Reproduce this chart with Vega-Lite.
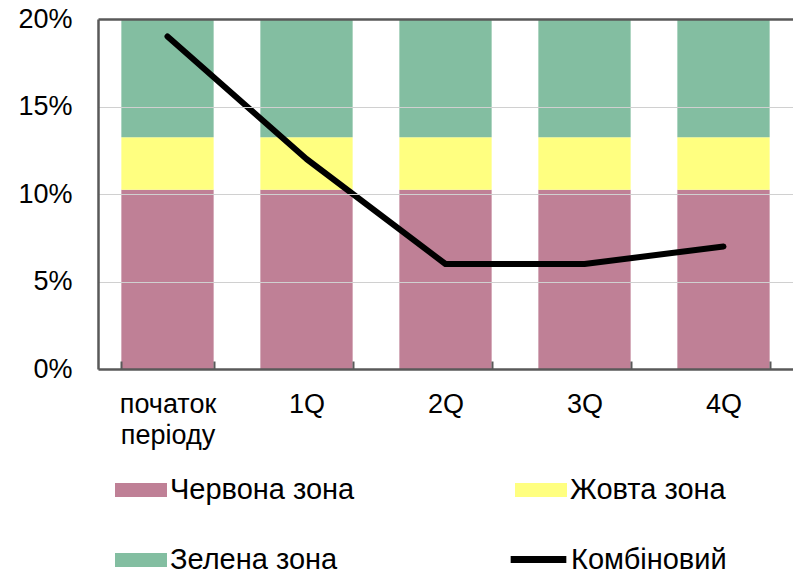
{
  "$schema": "https://vega.github.io/schema/vega-lite/v6.json",
  "autosize": {"type": "none"},
  "width": 695,
  "height": 350,
  "padding": {"left": 98, "top": 19, "right": 0, "bottom": 202},
  "background": "white",
  "config": {
    "font": "Liberation Sans",
    "view": {"stroke": null},
    "axis": {"labelFont": "Liberation Sans", "labelColor": "black"},
    "legend": {"labelFont": "Liberation Sans", "labelColor": "black"}
  },
  "datasets": {
    "zones": [
      {"period": "початок періоду", "zone": "Червона зона", "rank": 1, "value": 0.1025},
      {"period": "початок періоду", "zone": "Жовта зона", "rank": 2, "value": 0.03},
      {"period": "початок періоду", "zone": "Зелена зона", "rank": 3, "value": 0.0675},
      {"period": "1Q", "zone": "Червона зона", "rank": 1, "value": 0.1025},
      {"period": "1Q", "zone": "Жовта зона", "rank": 2, "value": 0.03},
      {"period": "1Q", "zone": "Зелена зона", "rank": 3, "value": 0.0675},
      {"period": "2Q", "zone": "Червона зона", "rank": 1, "value": 0.1025},
      {"period": "2Q", "zone": "Жовта зона", "rank": 2, "value": 0.03},
      {"period": "2Q", "zone": "Зелена зона", "rank": 3, "value": 0.0675},
      {"period": "3Q", "zone": "Червона зона", "rank": 1, "value": 0.1025},
      {"period": "3Q", "zone": "Жовта зона", "rank": 2, "value": 0.03},
      {"period": "3Q", "zone": "Зелена зона", "rank": 3, "value": 0.0675},
      {"period": "4Q", "zone": "Червона зона", "rank": 1, "value": 0.1025},
      {"period": "4Q", "zone": "Жовта зона", "rank": 2, "value": 0.03},
      {"period": "4Q", "zone": "Зелена зона", "rank": 3, "value": 0.0675}
    ],
    "combined": [
      {"period": "початок періоду", "series": "Комбіновий", "value": 0.19},
      {"period": "1Q", "series": "Комбіновий", "value": 0.12},
      {"period": "2Q", "series": "Комбіновий", "value": 0.06},
      {"period": "3Q", "series": "Комбіновий", "value": 0.06},
      {"period": "4Q", "series": "Комбіновий", "value": 0.07}
    ]
  },
  "encoding": {
    "x": {
      "field": "period",
      "type": "nominal",
      "sort": ["початок періоду", "1Q", "2Q", "3Q", "4Q"],
      "scale": {"paddingInner": 0.336, "paddingOuter": 0.168},
      "axis": {
        "title": null,
        "labelAngle": 0,
        "labelFontSize": 27,
        "labelBaseline": "top",
        "labelLineHeight": 31,
        "labelPadding": 30,
        "labelExpr": "datum.value == 'початок періоду' ? ['початок', 'періоду'] : datum.value",
        "tickBand": "extent",
        "tickSize": -8,
        "tickWidth": 2,
        "tickColor": "#595959",
        "domainColor": "#595959",
        "domainWidth": 2.5,
        "grid": false,
        "zindex": 1
      }
    }
  },
  "layer": [
    {
      "data": {"name": "zones"},
      "mark": {"type": "bar"},
      "encoding": {
        "y": {
          "field": "value",
          "type": "quantitative",
          "stack": "zero",
          "scale": {"domain": [0, 0.2], "nice": false},
          "axis": {
            "title": null,
            "values": [0, 0.05, 0.1, 0.15, 0.2],
            "format": ".0%",
            "labelFontSize": 27,
            "labelPadding": 26,
            "ticks": false,
            "domainColor": "#595959",
            "domainWidth": 2.5,
            "grid": true,
            "gridColor": {"condition": {"test": "datum.value >= 0.2", "value": "#595959"}, "value": "#d0d0d0"},
            "gridWidth": {"condition": {"test": "datum.value >= 0.2", "value": 2.5}, "value": 1},
            "zindex": 1
          }
        },
        "order": {"field": "rank", "type": "quantitative"},
        "fill": {
          "field": "zone",
          "type": "nominal",
          "scale": {
            "domain": ["Червона зона", "Жовта зона", "Зелена зона"],
            "range": ["#BF8096", "#FFFF80", "#83BEA1"]
          },
          "legend": {
            "title": null,
            "orient": "none",
            "legendX": 17,
            "legendY": 445,
            "direction": "horizontal",
            "columns": 2,
            "columnPadding": 160,
            "rowPadding": 29,
            "symbolType": "M-1,-0.27H1V0.27H-1Z",
            "symbolSize": 2704,
            "symbolStrokeWidth": 0,
            "symbolOpacity": 1,
            "labelOffset": 3,
            "labelFontSize": 29,
            "labelLimit": 400
          }
        }
      }
    },
    {
      "data": {"name": "combined"},
      "mark": {"type": "line", "strokeWidth": 6, "strokeCap": "round", "strokeJoin": "round"},
      "encoding": {
        "y": {"field": "value", "type": "quantitative"},
        "stroke": {
          "field": "series",
          "type": "nominal",
          "scale": {"range": ["black"]},
          "legend": {
            "title": null,
            "orient": "none",
            "legendX": 409,
            "legendY": 509,
            "symbolType": "stroke",
            "symbolSize": 3100,
            "symbolStrokeWidth": 7,
            "symbolStrokeColor": "black",
            "labelOffset": 1,
            "labelFontSize": 29,
            "labelLimit": 400
          }
        }
      }
    }
  ]
}
